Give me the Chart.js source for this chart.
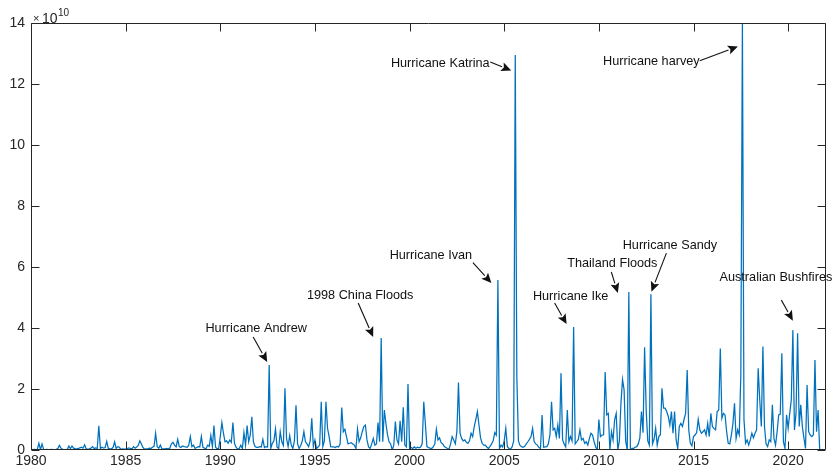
<!DOCTYPE html>
<html>
<head>
<meta charset="utf-8">
<script src="https://cdn.jsdelivr.net/npm/chart.js@4/dist/chart.umd.min.js"></script>
<style>
html,body{margin:0;padding:0;background:#fff;}
#wrap{width:835px;height:473px;}
</style>
</head>
<body>
<div id="wrap"><canvas id="c" width="835" height="473"></canvas></div>
<script>
// Monthly insured catastrophe losses, values in units of 1e10 (Jan..Dec)
const UNIT_EXPONENT = 10;
const y1980 = [0.02,0.01,0.02,0.01,0.02,0.22,0.02,0.20,0.02,0.01,0.02,0.01];
const y1981 = [0.01,0.02,0.01,0.01,0.02,0.05,0.15,0.06,0.02,0.01,0.01,0.02];
const y1982 = [0.13,0.05,0.13,0.06,0.04,0.04,0.05,0.07,0.09,0.06,0.17,0.03];
const y1983 = [0.03,0.04,0.06,0.11,0.05,0.07,0.05,0.79,0.05,0.09,0.06,0.08];
const y1984 = [0.28,0.05,0.04,0.04,0.08,0.27,0.05,0.11,0.09,0.02,0.04,0.03];
const y1985 = [0.03,0.05,0.07,0.05,0.04,0.11,0.06,0.10,0.15,0.30,0.20,0.08];
const y1986 = [0.03,0.04,0.04,0.06,0.05,0.09,0.12,0.55,0.11,0.06,0.16,0.03];
const y1987 = [0.04,0.04,0.05,0.04,0.06,0.20,0.25,0.16,0.10,0.35,0.11,0.08];
const y1988 = [0.13,0.11,0.10,0.09,0.16,0.44,0.11,0.16,0.05,0.08,0.11,0.10];
const y1989 = [0.44,0.09,0.06,0.04,0.16,0.12,0.48,0.11,0.80,0.09,0.04,0.05];
const y1990 = [0.44,0.90,0.55,0.27,0.30,0.22,0.33,0.25,0.90,0.22,0.09,0.03];
const y1991 = [0.05,0.16,0.05,0.57,0.16,0.80,0.27,0.49,1.09,0.27,0.11,0.09];
const y1992 = [0.09,0.11,0.10,0.35,0.08,0.11,0.10,2.79,0.05,0.22,0.30,0.69];
const y1993 = [0.09,0.05,0.60,0.27,0.15,2.02,0.38,0.11,0.47,0.16,0.05,0.30];
const y1994 = [1.47,0.20,0.05,0.15,0.30,0.60,0.27,0.20,0.11,0.30,1.04,0.11];
const y1995 = [0.33,0.05,0.10,0.16,1.58,0.11,0.30,1.58,0.71,0.44,0.11,0.10];
const y1996 = [0.10,0.08,0.12,0.10,0.20,1.39,0.60,0.68,0.44,0.20,0.22,0.24];
const y1997 = [0.20,0.16,0.05,0.69,0.27,0.40,0.60,0.77,0.82,0.33,0.10,0.05];
const y1998 = [0.20,0.38,0.16,0.20,0.90,0.27,3.67,0.27,1.31,0.87,0.50,0.27];
const y1999 = [0.20,0.00,0.16,0.93,0.33,0.20,0.96,0.27,1.40,0.16,0.10,2.16];
const y2000 = [0.05,0.08,0.05,0.10,0.06,0.09,0.07,0.10,0.20,1.58,0.87,0.11];
const y2001 = [0.08,0.06,0.05,0.10,0.20,0.68,0.33,0.40,0.24,0.20,0.11,0.08];
const y2002 = [0.05,0.03,0.20,0.44,0.33,0.20,0.60,2.21,0.55,0.38,0.30,0.33];
const y2003 = [0.25,0.22,0.30,0.55,0.44,0.77,1.00,1.26,0.82,0.40,0.22,0.16];
const y2004 = [0.16,0.10,0.05,0.12,0.20,0.30,0.57,0.49,5.57,0.05,0.16,0.10];
const y2005 = [0.30,0.71,0.11,0.05,0.03,0.10,0.30,12.95,2.40,0.30,0.15,0.11];
const y2006 = [0.09,0.12,0.20,0.27,0.35,0.44,0.71,0.27,0.20,0.16,0.08,0.05];
const y2007 = [1.15,0.09,0.10,0.11,0.20,0.50,1.58,0.66,0.71,0.44,0.82,0.38];
const y2008 = [2.52,0.33,0.20,0.10,1.31,0.27,0.44,0.30,4.03,0.20,0.27,0.35];
const y2009 = [0.66,0.33,0.38,0.22,0.27,0.16,0.38,0.55,0.49,0.27,0.10,0.00];
const y2010 = [1.00,0.44,0.49,0.50,2.56,1.15,1.20,0.00,0.60,0.33,1.00,1.20];
const y2011 = [0.00,0.30,1.53,2.31,1.97,0.30,0.00,5.18,0.00,0.05,0.05,0.09];
const y2012 = [0.11,0.20,0.40,1.26,0.57,3.37,1.31,0.30,0.16,5.11,0.20,0.35];
const y2013 = [0.71,0.16,0.44,0.50,2.02,1.37,1.37,1.26,1.10,0.82,1.26,0.55];
const y2014 = [1.26,0.33,0.05,0.77,0.87,0.77,1.00,1.20,2.62,0.66,0.22,0.14];
const y2015 = [0.44,0.49,0.57,1.00,0.66,0.55,0.60,0.66,0.49,0.87,0.44,1.20];
const y2016 = [0.77,0.70,0.66,1.26,1.31,3.33,1.04,1.20,1.15,0.60,0.22,0.20];
const y2017 = [0.49,0.87,1.53,0.38,0.66,0.50,2.46,14.00,1.00,0.22,0.33,0.16];
const y2018 = [0.33,0.55,0.40,0.55,0.66,2.68,1.64,0.77,3.39,0.77,0.20,0.11];
const y2019 = [0.33,0.27,1.48,0.38,0.16,0.60,1.15,1.18,3.17,0.27,0.05,1.15];
const y2020 = [0.71,1.20,1.64,3.93,0.66,1.20,3.83,0.77,1.48,0.77,0.40,0.05];
const y2021 = [2.13,0.60,0.49,0.44,0.50,2.95,0.60,1.31,0.00];

const START_YEAR = 1980;
const xTickValues = [1980,1985,1990,1995,2000,2005,2010,2015,2020];
const yTickValues = [0,2,4,6,8,10,12,14];
const X_MIN = 1980, X_MAX = 2022, Y_MIN = 0, Y_MAX = 14;

// Annotated events: label, year, month (0 = Jan)
const eventLabels = ['Hurricane Andrew','1998 China Floods','Hurricane Ivan','Hurricane Katrina','Hurricane harvey','Hurricane Ike','Thailand Floods','Hurricane Sandy','Australian Bushfires'];
const eventYears  = [1992,1998,2004,2005,2017,2008,2011,2012,2020];
const eventMonths = [7,6,8,7,7,8,7,9,3];

const yearly = [y1980,y1981,y1982,y1983,y1984,y1985,y1986,y1987,y1988,y1989,y1990,y1991,y1992,y1993,y1994,y1995,y1996,y1997,y1998,y1999,y2000,y2001,y2002,y2003,y2004,y2005,y2006,y2007,y2008,y2009,y2010,y2011,y2012,y2013,y2014,y2015,y2016,y2017,y2018,y2019,y2020,y2021];
const points = [];
yearly.forEach((arr, yi) => arr.forEach((v, m) => points.push({x: START_YEAR + yi + m / 12, y: v})));

// Layout of annotation arrows (pixel offsets from the annotated data point)
const eventLayout = [
  {tip:[-2,-3],   tail:[-16,-28],   text:[-13,-36]},
  {tip:[-8,-1],   tail:[-23,-35],   text:[-21,-43]},
  {tip:[-6.5,3],  tail:[-25,-17.5], text:[-67,-25]},
  {tip:[-4,15.5], tail:[-25,7],     text:[-75,8]},
  {tip:[-4.5,23.5], tail:[-42.7,37.7], text:[-91,38.7]},
  {tip:[-7,-3],   tail:[-19,-24],   text:[-3,-31]},
  {tip:[-11,1],   tail:[-17.5,-20], text:[-16.5,-29]},
  {tip:[0.5,-2.5], tail:[15.5,-41], text:[19,-48.5]},
  {tip:[0,-9.5],  tail:[-11.5,-30], text:[-17,-53]}
];

const AXIS_COLOR = '#262626';
const FONT = '"Liberation Sans", Arial, Helvetica, sans-serif';

const framePlugin = {
  id: 'frame',
  afterDraw(chart) {
    const {ctx, chartArea: a, scales} = chart;
    ctx.save();
    ctx.strokeStyle = AXIS_COLOR;
    ctx.lineWidth = 1;
    const L = Math.round(a.left) + 0.5, R = Math.round(a.right) - 0.5;
    const T = Math.round(a.top) + 0.5, B = Math.round(a.bottom) - 0.5;
    ctx.beginPath();
    ctx.rect(L, T, R - L, B - T);
    const tl = 8;
    scales.x.ticks.forEach(t => {
      const px = Math.round(scales.x.getPixelForValue(t.value)) + 0.5;
      ctx.moveTo(px, B); ctx.lineTo(px, B - tl);
      ctx.moveTo(px, T); ctx.lineTo(px, T + tl);
    });
    scales.y.ticks.forEach(t => {
      const py = Math.round(scales.y.getPixelForValue(t.value)) + 0.5;
      ctx.moveTo(L, py); ctx.lineTo(L + tl, py);
      ctx.moveTo(R, py); ctx.lineTo(R - tl, py);
    });
    ctx.stroke();
    // exponent label
    ctx.fillStyle = AXIS_COLOR;
    ctx.textBaseline = 'alphabetic';
    ctx.textAlign = 'left';
    ctx.font = '11px ' + FONT;
    ctx.fillText('\u00d7', a.left + 2, a.top - 1);
    ctx.font = '14px ' + FONT;
    ctx.fillText('10', a.left + 11, a.top);
    ctx.font = '10px ' + FONT;
    ctx.fillText(String(UNIT_EXPONENT), a.left + 27, a.top - 7);
    ctx.restore();
  }
};

const eventPlugin = {
  id: 'events',
  afterDatasetsDraw(chart) {
    const {ctx, scales: {x, y}} = chart;
    ctx.save();
    ctx.fillStyle = '#111';
    ctx.strokeStyle = '#111';
    ctx.lineWidth = 1.1;
    ctx.font = '12.7px ' + FONT;
    ctx.textAlign = 'center';
    ctx.textBaseline = 'middle';
    eventLabels.forEach((label, k) => {
      const idx = (eventYears[k] - START_YEAR) * 12 + eventMonths[k];
      const p = points[idx];
      const px = x.getPixelForValue(p.x), py = y.getPixelForValue(p.y);
      const lay = eventLayout[k];
      const tx = px + lay.tip[0], ty = py + lay.tip[1];
      const sx = px + lay.tail[0], sy = py + lay.tail[1];
      const ang = Math.atan2(ty - sy, tx - sx);
      const hl = 10, hw = 4.5;
      const bx = tx - hl * Math.cos(ang), by = ty - hl * Math.sin(ang);
      ctx.beginPath();
      ctx.moveTo(sx, sy); ctx.lineTo(bx, by);
      ctx.stroke();
      ctx.beginPath();
      ctx.moveTo(tx, ty);
      ctx.lineTo(bx + hw * Math.sin(ang), by - hw * Math.cos(ang));
      ctx.lineTo(bx + 2 * Math.cos(ang), by + 2 * Math.sin(ang));
      ctx.lineTo(bx - hw * Math.sin(ang), by + hw * Math.cos(ang));
      ctx.closePath();
      ctx.fill();
      ctx.fillText(label, px + lay.text[0], py + lay.text[1]);
    });
    ctx.restore();
  }
};

new Chart(document.getElementById('c'), {
  type: 'line',
  data: {
    datasets: [{
      data: points,
      borderColor: '#0072BD',
      borderWidth: 1.25,
      pointRadius: 0,
      tension: 0,
      fill: false
    }]
  },
  options: {
    responsive: false,
    animation: false,
    devicePixelRatio: 1,
    parsing: true,
    layout: {padding: {left: 0, right: 9, top: 23, bottom: 0}},
    plugins: {legend: {display: false}, tooltip: {enabled: false}},
    scales: {
      x: {
        type: 'linear',
        min: X_MIN, max: X_MAX,
        grid: {display: false, drawTicks: false},
        border: {display: false},
        afterBuildTicks: s => { s.ticks = xTickValues.map(v => ({value: v})); },
        afterFit: s => { s.height = 23; },
        ticks: {
          padding: 3,
          color: AXIS_COLOR,
          maxRotation: 0,
          autoSkip: false,
          font: {family: FONT, size: 14},
          callback: v => String(v)
        }
      },
      y: {
        type: 'linear',
        min: Y_MIN, max: Y_MAX,
        grid: {display: false, drawTicks: false},
        border: {display: false},
        afterBuildTicks: s => { s.ticks = yTickValues.map(v => ({value: v})); },
        afterFit: s => { s.width = 31; },
        ticks: {
          padding: 6,
          color: AXIS_COLOR,
          autoSkip: false,
          font: {family: FONT, size: 14},
          callback: v => String(v)
        }
      }
    }
  },
  plugins: [eventPlugin, framePlugin]
});
</script>
</body>
</html>
